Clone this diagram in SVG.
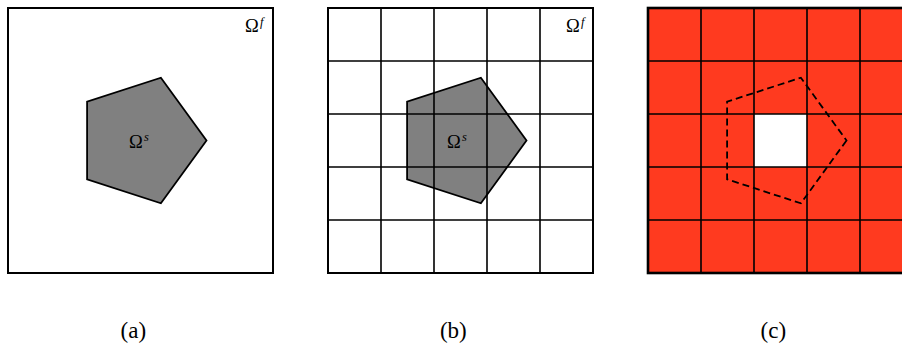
<svg xmlns="http://www.w3.org/2000/svg" width="902" height="344" viewBox="0 0 902 344">
<style>
.frame{fill:none;stroke:#000;stroke-width:2}
.grid{fill:none;stroke:#000;stroke-width:1.6}
.solid{fill:#808080;stroke:#000;stroke-width:1.8;stroke-linejoin:miter}
.dash{fill:none;stroke:#000;stroke-width:1.8;stroke-dasharray:7 4}
text{font-family:"Liberation Serif","Times New Roman",serif;fill:#000}
.lbl{font-size:18.5px}
.sup{font-size:12.5px;font-style:italic}
.cap{font-size:23px;text-anchor:middle}
</style>
<rect width="902" height="344" fill="#fff"/>
<g id="panel-a">
<rect class="frame" x="8" y="8" width="265" height="265"/>
<polygon class="solid" points="206.5,140.5 160.9,203.3 87.1,179.3 87.1,101.7 160.9,77.7"/>
<text class="lbl" x="129" y="148">Ω</text><text class="sup" x="144" y="141">s</text>
<text class="lbl" x="245" y="32">Ω</text><text class="sup" x="260" y="25.5">f</text>
<text class="cap" x="133.3" y="338">(a)</text>
</g>
<g id="panel-b">
<polygon class="solid" points="526.5,140.5 480.9,203.3 407.1,179.3 407.1,101.7 480.9,77.7"/>
<path class="grid" d="M381,8V273M434,8V273M487,8V273M540,8V273M328,61H593M328,114H593M328,167H593M328,220H593"/>
<rect class="frame" x="328" y="8" width="265" height="265"/>
<text class="lbl" x="447" y="148">Ω</text><text class="sup" x="462" y="141">s</text>
<text class="lbl" x="566" y="32">Ω</text><text class="sup" x="581" y="25.5">f</text>
<text class="cap" x="453.3" y="338">(b)</text>
</g>
<g id="panel-c">
<rect x="648" y="8" width="265" height="265" fill="#ff3a1f"/>
<rect x="754" y="114" width="53" height="53" fill="#fff"/>
<path class="grid" d="M701,8V273M754,8V273M807,8V273M860,8V273M648,61H913M648,114H913M648,167H913M648,220H913"/>
<rect x="648" y="8" width="265" height="265" fill="none" stroke="#000" stroke-width="2.6"/>
<polygon class="dash" points="846.5,140.5 800.9,203.3 727.1,179.3 727.1,101.7 800.9,77.7"/>
<text class="cap" x="773.3" y="338">(c)</text>
</g>
<g id="connectors"/>
</svg>
